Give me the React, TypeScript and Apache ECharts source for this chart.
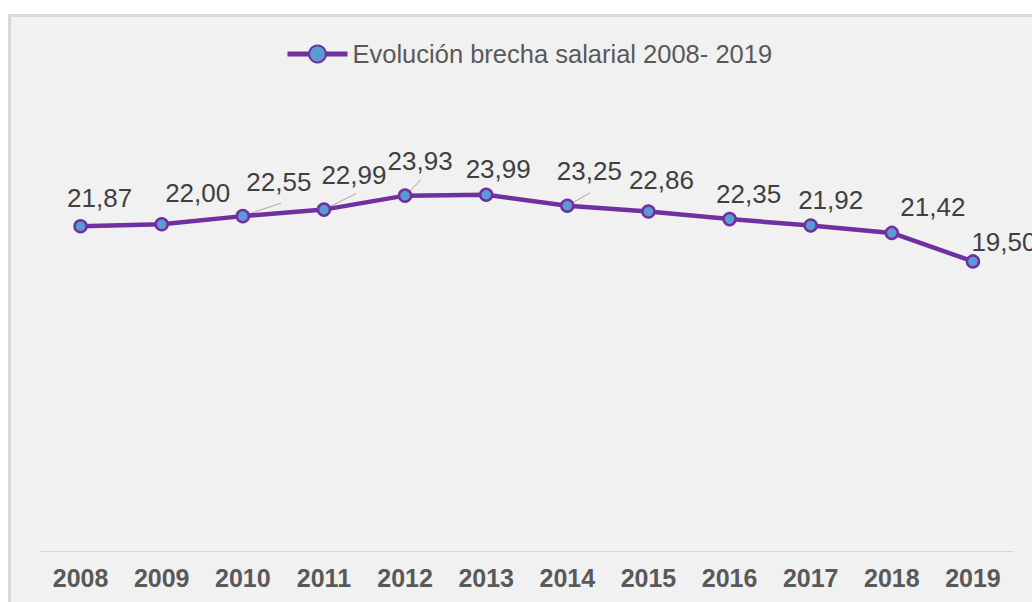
import React, { useEffect, useRef } from "react";
import * as echarts from "echarts";

// ---- data ----
const years = ["2008", "2009", "2010", "2011", "2012", "2013", "2014", "2015", "2016", "2017", "2018", "2019"];
const brecha = [21.87, 22.0, 22.55, 22.99, 23.93, 23.99, 23.25, 22.86, 22.35, 21.92, 21.42, 19.5];
const seriesName = "Evolución brecha salarial 2008- 2019";
const yMin = 0;
const yMax = 30;

// label nudges (px) relative to default "top" placement
const labelShift: number[][] = [
  [19, -3], [36, -6], [36, -9], [30, -9], [15, -9], [12, 0],
  [22, -9], [13, -6], [19, 0], [20, 0], [41, -1], [31, 6],
];
// labels that carry a leader line, and the leader's end relative to its point (px)
const withLeader = [2, 3, 4, 6];
const leaderEnd: number[][] = [[38, -13], [32, -16], [16, -16], [23, -13]];

const FONT = "'Liberation Sans', Arial, sans-serif";

export default function App() {
  const ref = useRef<HTMLDivElement>(null);

  useEffect(() => {
    if (!ref.current) return;
    const chart = echarts.init(ref.current, undefined, { renderer: "svg" });
    chart.setOption({
      animation: false,
      backgroundColor: "transparent",
      legend: {
        data: [seriesName],
        left: 280,
        top: 36,
        itemWidth: 60,
        itemHeight: 21,
        lineStyle: { width: 5, color: "#7030a0" },
        textStyle: { fontSize: 25.5, color: "#595959", fontFamily: FONT },
      },
      grid: { left: 40, right: 18.5, top: 105.5, bottom: 51, containLabel: false },
      xAxis: {
        type: "category",
        data: years,
        boundaryGap: true,
        axisLine: { show: true, lineStyle: { color: "#d9d9d9", width: 1 } },
        axisTick: { show: false },
        axisLabel: {
          fontSize: 25,
          fontWeight: "bold",
          color: "#595959",
          margin: 14,
          fontFamily: FONT,
        },
      },
      yAxis: {
        type: "value",
        min: yMin,
        max: yMax,
        show: false,
        splitLine: { show: false },
      },
      series: [
        {
          name: "leaders",
          type: "custom",
          silent: true,
          z: 1,
          data: withLeader.map((i) => [i, brecha[i]]),
          renderItem: (params: any, api: any) => {
            const p = api.coord([api.value(0), api.value(1)]);
            const off = leaderEnd[params.dataIndex];
            return {
              type: "line",
              shape: { x1: p[0], y1: p[1], x2: p[0] + off[0], y2: p[1] + off[1] },
              style: { stroke: "#a6a6a6", lineWidth: 1 },
            };
          },
        },
        {
          name: seriesName,
          type: "line",
          z: 3,
          data: brecha,
          symbol: "circle",
          symbolSize: 12,
          lineStyle: { color: "#7030a0", width: 4.5 },
          itemStyle: { color: "#5b9bd5", borderColor: "#7030a0", borderWidth: 2.5 },
          label: {
            show: true,
            position: "top",
            fontSize: 26,
            color: "#404040",
            fontFamily: FONT,
            formatter: (p: any) => Number(p.value).toFixed(2).replace(".", ","),
          },
          labelLayout: (p: any) => ({
            dx: labelShift[p.dataIndex][0],
            dy: labelShift[p.dataIndex][1],
          }),
        },
      ],
    });
    return () => chart.dispose();
  }, []);

  return (
    <>
      <div
        style={{
          position: "fixed",
          left: 8,
          top: 14,
          width: 1100,
          height: 700,
          boxSizing: "border-box",
          borderLeft: "3px solid #d9d9d9",
          borderTop: "3px solid #d9d9d9",
          background: "#f1f1f1",
        }}
      />
      <div
        ref={ref}
        style={{ position: "fixed", left: 0, top: 0, width: 1032, height: 602 }}
      />
    </>
  );
}
